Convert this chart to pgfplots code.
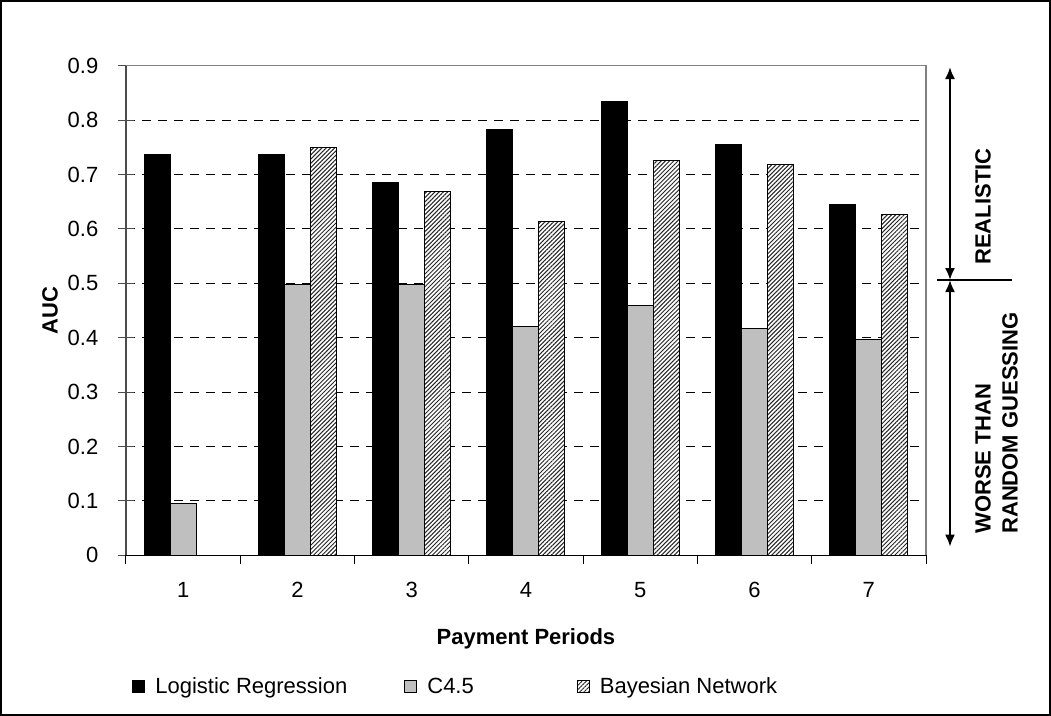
\documentclass[border=0pt]{standalone}
\usepackage{pgfplots}
\pgfplotsset{compat=1.18}
\usepackage{fontspec}
\setmainfont{Liberation Sans}
\usetikzlibrary{patterns.meta,arrows.meta}

\begin{document}
\fontsize{11}{13.5}\selectfont
\begin{tikzpicture}
\useasboundingbox (-63pt,-80.35pt) rectangle (462.5pt,277.65pt);
\begin{axis}[
  width=400pt, height=244.8pt, scale only axis,
  at={(0,0)}, anchor=south west,
  xmin=0.5, xmax=7.5, ymin=0, ymax=0.9,
  clip=false,
  ybar=0pt, bar width=13pt,
  axis lines*=left,
  x axis line style={black, line width=0.6pt},
  y axis line style={black!70, line width=0.6pt},
  xtick={1,2,3,4,5,6,7},
  xticklabels={1,2,3,4,5,6,7},
  xtick style={draw=none},
  xticklabel style={anchor=center, yshift=-13.2pt},
  extra x ticks={0.5,1.5,2.5,3.5,4.5,5.5,6.5,7.5},
  extra x tick labels={},
  extra x tick style={tick align=outside, major tick length=4.5pt, xtick style={draw=black, line width=0.5pt}},
  ytick={0,0.1,0.2,0.3,0.4,0.5,0.6,0.7,0.8,0.9},
  yticklabels={0,0.1,0.2,0.3,0.4,0.5,0.6,0.7,0.8,0.9},
  yticklabel style={anchor=east, xshift=-6pt},
  tick align=center, major tick length=8pt,
  ytick style={draw=black!70, line width=0.5pt},
  ymajorgrids,
  major grid style={black, dash pattern=on 4.5pt off 3.5pt, line width=0.5pt},
  xlabel={\bfseries Payment Periods},
  xlabel style={at={(axis description cs:0.5,-0.171)}, anchor=center},
  ylabel={\bfseries AUC},
  ylabel style={at={(axis description cs:-0.095,0.5)}, anchor=center},
  legend columns=3,
  legend style={at={(axis description cs:0.0,-0.269)}, anchor=west, draw=none, fill=none,
    /tikz/every odd column/.append style={column sep=3pt}},
  legend image code/.code={\draw[#1] (0pt,-3pt) rectangle (6pt,3pt);},
]
\addplot[fill=black, draw=black, line width=0.5pt] coordinates {(1,0.737)(2,0.737)(3,0.686)(4,0.782)(5,0.835)(6,0.755)(7,0.644)};
\addplot[fill=black!25, draw=black, line width=0.5pt] coordinates {(1,0.095)(2,0.497)(3,0.497)(4,0.420)(5,0.459)(6,0.417)(7,0.396)};
\addplot[fill=white, draw=black, line width=0.5pt, postaction={pattern={Lines[angle=45,distance=1.5pt,line width=0.5pt]}, pattern color=black!85}] coordinates {(2,0.749)(3,0.668)(4,0.614)(5,0.725)(6,0.719)(7,0.626)};
\legend{Logistic Regression\rule{26.5pt}{0pt}, C4.5\rule{49.5pt}{0pt}, Bayesian Network}
\draw[black!50, line width=0.6pt] (rel axis cs:0,1) -- (rel axis cs:1,1) -- (rel axis cs:1,0);
\draw[line width=1pt, {Latex[length=6pt,width=5pt]}-{Latex[length=6pt,width=5pt]}] (axis cs:7.71,0.506) -- (axis cs:7.71,0.8976);
\draw[line width=1pt, {Latex[length=6pt,width=5pt]}-{Latex[length=6pt,width=5pt]}] (axis cs:7.71,0.0158) -- (axis cs:7.71,0.506);
\draw[line width=0.6pt] (axis cs:7.596,0.506) -- (axis cs:8.25,0.506);
\node[rotate=90, font=\bfseries] at (axis cs:8.0,0.641) {REALISTIC};
\node[rotate=90, font=\bfseries, align=left] at (axis cs:8.117,0.243) {WORSE THAN\\RANDOM GUESSING};
\end{axis}
\draw[line width=1pt] (-62.5pt,-79.85pt) rectangle (462pt,277.15pt);
\end{tikzpicture}
\end{document}
